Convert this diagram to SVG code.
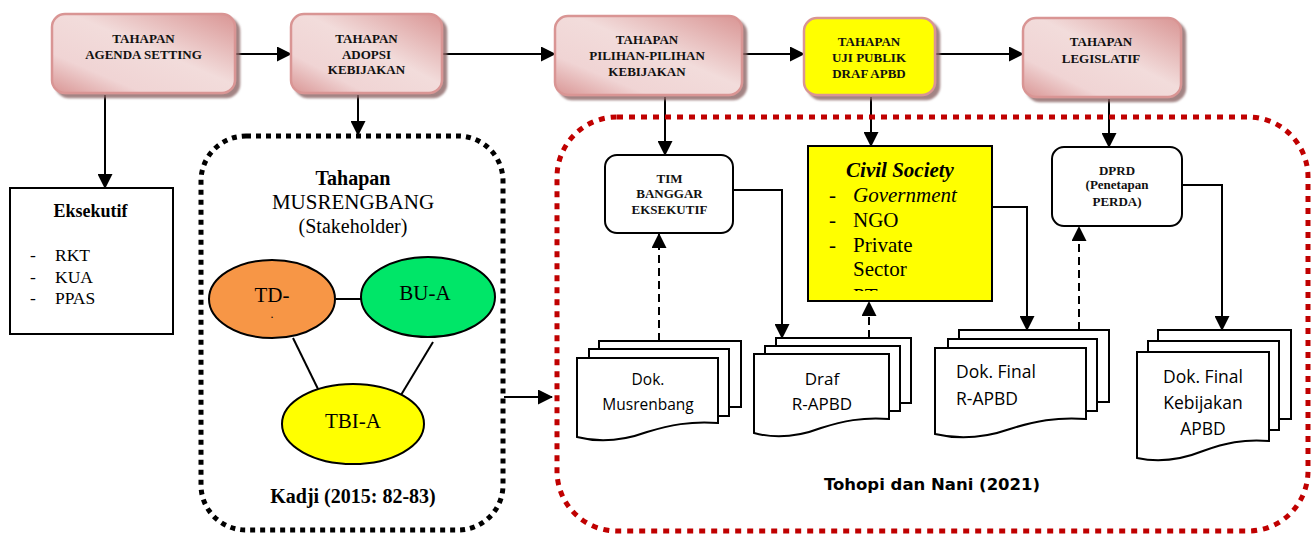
<svg xmlns="http://www.w3.org/2000/svg" width="1315" height="536" viewBox="0 0 1315 536">
<defs>
<linearGradient id="pink" x1="1" y1="0" x2="0" y2="1">
<stop offset="0" stop-color="#d99594"/>
<stop offset="0.45" stop-color="#f2dcdb"/>
<stop offset="0.75" stop-color="#f0d4d4"/>
<stop offset="1" stop-color="#d99594"/>
</linearGradient>
<filter id="shadow" x="-10%" y="-10%" width="130%" height="130%">
<feDropShadow dx="4" dy="4" stdDeviation="1" flood-color="#8c6666" flood-opacity="0.8"/>
</filter>
<marker id="arr" markerUnits="userSpaceOnUse" markerWidth="15" markerHeight="15" viewBox="0 0 15 15" refX="14" refY="7.5" orient="auto">
<path d="M0,0 L15,7.5 L0,15 z" fill="#000"/>
</marker>
<clipPath id="civclip"><rect x="809" y="147" width="182" height="144"/></clipPath>
</defs>
<style>
.stage{fill:url(#pink);stroke:#d99594;stroke-width:2.5;filter:url(#shadow)}
.stageY{fill:#ffff00;stroke:#d99594;stroke-width:2.5;filter:url(#shadow)}
.st{font-family:"Liberation Serif",serif;font-weight:bold;font-size:13px;text-anchor:middle;fill:#111}
.box{fill:#fff;stroke:#000;stroke-width:2}
.ser{font-family:"Liberation Serif",serif;fill:#000}
.doc{fill:#fff;stroke:#000;stroke-width:2}
.dt{font-family:"Open Sans",sans-serif;fill:#000;text-anchor:middle}
.dts{font-family:"Open Sans",sans-serif;fill:#000;text-anchor:start}
.ln{fill:none;stroke:#000;stroke-width:2}
.dash{fill:none;stroke:#000;stroke-width:2;stroke-dasharray:8 5}
.ell{stroke:#000;stroke-width:2}
</style>

<g id="connectors">
<path class="ln" d="M235,54 H291" marker-end="url(#arr)"/>
<path class="ln" d="M442,54 H555" marker-end="url(#arr)"/>
<path class="ln" d="M742,54 H804" marker-end="url(#arr)"/>
<path class="ln" d="M935,54 H1023" marker-end="url(#arr)"/>
<path class="ln" d="M105,95 V188" marker-end="url(#arr)"/>
<path class="ln" d="M358,95 V135" marker-end="url(#arr)"/>
<path class="ln" d="M665,97 V155" marker-end="url(#arr)"/>
<path class="ln" d="M871,97 V146" marker-end="url(#arr)"/>
<path class="ln" d="M1109,99 V147" marker-end="url(#arr)"/>
<path class="ln" d="M504,397 H552" marker-end="url(#arr)"/>
<path class="ln" d="M733,190 H782 V338" marker-end="url(#arr)"/>
<path class="ln" d="M992,207 H1027 V330" marker-end="url(#arr)"/>
<path class="ln" d="M1182,185 H1222 V330" marker-end="url(#arr)"/>
<path class="dash" d="M659,341 V234" marker-end="url(#arr)"/>
<path class="dash" d="M869,338 V302" marker-end="url(#arr)"/>
<path class="dash" d="M1079,330 V227" marker-end="url(#arr)"/>
<line class="ln" x1="336" y1="299" x2="363" y2="299"/>
<line class="ln" x1="293" y1="338" x2="318" y2="389"/>
<line class="ln" x1="433" y1="342" x2="401" y2="395"/>
</g>

<g id="stage-agenda">
<rect class="stage" x="52" y="14" width="183" height="79" rx="13"/>
<text class="st" x="143.5" y="43">TAHAPAN</text>
<text class="st" x="143.5" y="59">AGENDA SETTING</text>
</g>
<g id="stage-adopsi">
<rect class="stage" x="291" y="14" width="151" height="79" rx="13"/>
<text class="st" x="366.5" y="43">TAHAPAN</text>
<text class="st" x="366.5" y="59">ADOPSI</text>
<text class="st" x="366.5" y="74">KEBIJAKAN</text>
</g>
<g id="stage-pilihan">
<rect class="stage" x="555" y="16" width="187" height="79" rx="13"/>
<text class="st" x="647" y="44">TAHAPAN</text>
<text class="st" x="647" y="60">PILIHAN-PILIHAN</text>
<text class="st" x="647" y="76">KEBIJAKAN</text>
</g>
<g id="stage-uji">
<rect class="stageY" x="804" y="18" width="131" height="77" rx="13"/>
<text class="st" x="869" y="46">TAHAPAN</text>
<text class="st" x="869" y="62">UJI PUBLIK</text>
<text class="st" x="869" y="78">DRAF APBD</text>
</g>
<g id="stage-legislatif">
<rect class="stage" x="1023" y="18" width="158" height="79" rx="13"/>
<text class="st" x="1101" y="46">TAHAPAN</text>
<text class="st" x="1101" y="63">LEGISLATIF</text>
</g>

<g id="eksekutif">
<rect class="box" x="10" y="188" width="163" height="146"/>
<text class="ser" x="90.5" y="217" font-size="18" font-weight="bold" text-anchor="middle">Eksekutif</text>
<text class="ser" font-size="17.5"><tspan x="30" y="261">-</tspan><tspan x="55" y="261">RKT</tspan><tspan x="30" y="283">-</tspan><tspan x="55" y="283">KUA</tspan><tspan x="30" y="304">-</tspan><tspan x="55" y="304">PPAS</tspan></text>
</g>

<g id="musrenbang">
<rect x="201" y="136" width="302" height="394" rx="45" fill="none" stroke="#000" stroke-width="5" stroke-dasharray="5 5"/>
<text class="ser" x="353" y="185" font-size="20" font-weight="bold" text-anchor="middle">Tahapan</text>
<text class="ser" x="353" y="209" font-size="21" text-anchor="middle">MUSRENGBANG</text>
<text class="ser" x="353" y="233" font-size="20" text-anchor="middle">(Stakeholder)</text>
<text class="ser" x="353" y="503" font-size="20" font-weight="bold" text-anchor="middle">Kadji (2015: 82-83)</text>
</g>
<g id="td">
<ellipse class="ell" cx="272" cy="299" rx="63" ry="39" fill="#f79646"/>
<text class="ser" x="272" y="302" font-size="21" text-anchor="middle">TD-</text>
<text class="ser" x="272" y="318" font-size="12" text-anchor="middle">.</text>
</g>
<g id="bua">
<ellipse class="ell" cx="428" cy="297" rx="67" ry="40" fill="#00e668"/>
<text class="ser" x="425" y="300" font-size="21" text-anchor="middle">BU-A</text>
</g>
<g id="tbia">
<ellipse class="ell" cx="353" cy="424" rx="71" ry="40" fill="#ffff00"/>
<text class="ser" x="353" y="428" font-size="21" text-anchor="middle">TBI-A</text>
</g>

<g id="tohopi">
<rect x="557" y="117" width="751" height="414" rx="60" fill="none" stroke="#c00000" stroke-width="5" stroke-dasharray="6 6"/>
<text x="932" y="490" font-family="'DejaVu Sans',sans-serif" font-weight="bold" font-size="16.5" text-anchor="middle" fill="#000">Tohopi dan Nani (2021)</text>
</g>

<g id="tim">
<rect class="box" x="605" y="155" width="128" height="78" rx="12"/>
<text class="st" x="669.5" y="183">TIM</text>
<text class="st" x="669.5" y="198">BANGGAR</text>
<text class="st" x="669.5" y="214">EKSEKUTIF</text>
</g>

<g id="civil">
<rect x="808" y="146" width="184" height="155" fill="#ffff00" stroke="#000" stroke-width="2"/>
<g clip-path="url(#civclip)" class="ser" font-size="21">
<text x="900" y="177" font-weight="bold" font-style="italic" text-anchor="middle">Civil Society</text>
<text x="829" y="202">-</text><text x="853" y="202" font-style="italic">Government</text>
<text x="829" y="227">-</text><text x="853" y="227">NGO</text>
<text x="829" y="252">-</text><text x="853" y="252">Private</text>
<text x="853" y="276">Sector</text>
<text x="853" y="303">PT</text>
</g>
</g>

<g id="dprd">
<rect class="box" x="1052" y="147" width="130" height="79" rx="12"/>
<text class="st" x="1117" y="175">DPRD</text>
<text class="st" x="1117" y="189">(Penetapan</text>
<text class="st" x="1117" y="206">PERDA)</text>
</g>

<g id="doc-musrenbang">
<rect class="doc" x="599" y="341" width="142" height="66"/>
<rect class="doc" x="589" y="349" width="140" height="67"/>
<path class="doc" d="M577,358 H718 V423 C690,421 670,425 647,432 C625,440 600,443 577,437 Z"/>
<text class="dt" x="648" y="385" font-size="15.5">Dok.</text>
<text class="dt" x="648" y="410" font-size="15.5">Musrenbang</text>
</g>
<g id="doc-draf">
<rect class="doc" x="776" y="338" width="135" height="65"/>
<rect class="doc" x="765" y="346" width="135" height="65"/>
<path class="doc" d="M754,354 H889 V419 C862,417 843,421 821,428 C800,436 776,439 754,433 Z"/>
<text class="dt" x="822" y="385" font-size="17">Draf</text>
<text class="dt" x="822" y="410" font-size="17">R-APBD</text>
</g>
<g id="doc-final">
<rect class="doc" x="959" y="330" width="150" height="72"/>
<rect class="doc" x="948" y="339" width="149" height="72"/>
<path class="doc" d="M935,348 H1086 V419 C1056,417 1035,421 1010,429 C987,437 960,440 935,434 Z"/>
<text class="dts" x="956" y="378" font-size="17.5">Dok. Final</text>
<text class="dts" x="956" y="405" font-size="17.5">R-APBD</text>
</g>
<g id="doc-kebijakan">
<rect class="doc" x="1158" y="330" width="133" height="89"/>
<rect class="doc" x="1148" y="341" width="131" height="89"/>
<path class="doc" d="M1137,352 H1269 V441 C1243,439 1225,443 1203,451 C1183,459 1160,463 1137,458 Z"/>
<text class="dt" x="1203" y="383" font-size="17.5">Dok. Final</text>
<text class="dt" x="1203" y="409" font-size="17.5">Kebijakan</text>
<text class="dt" x="1203" y="435" font-size="17.5">APBD</text>
</g>
</svg>
